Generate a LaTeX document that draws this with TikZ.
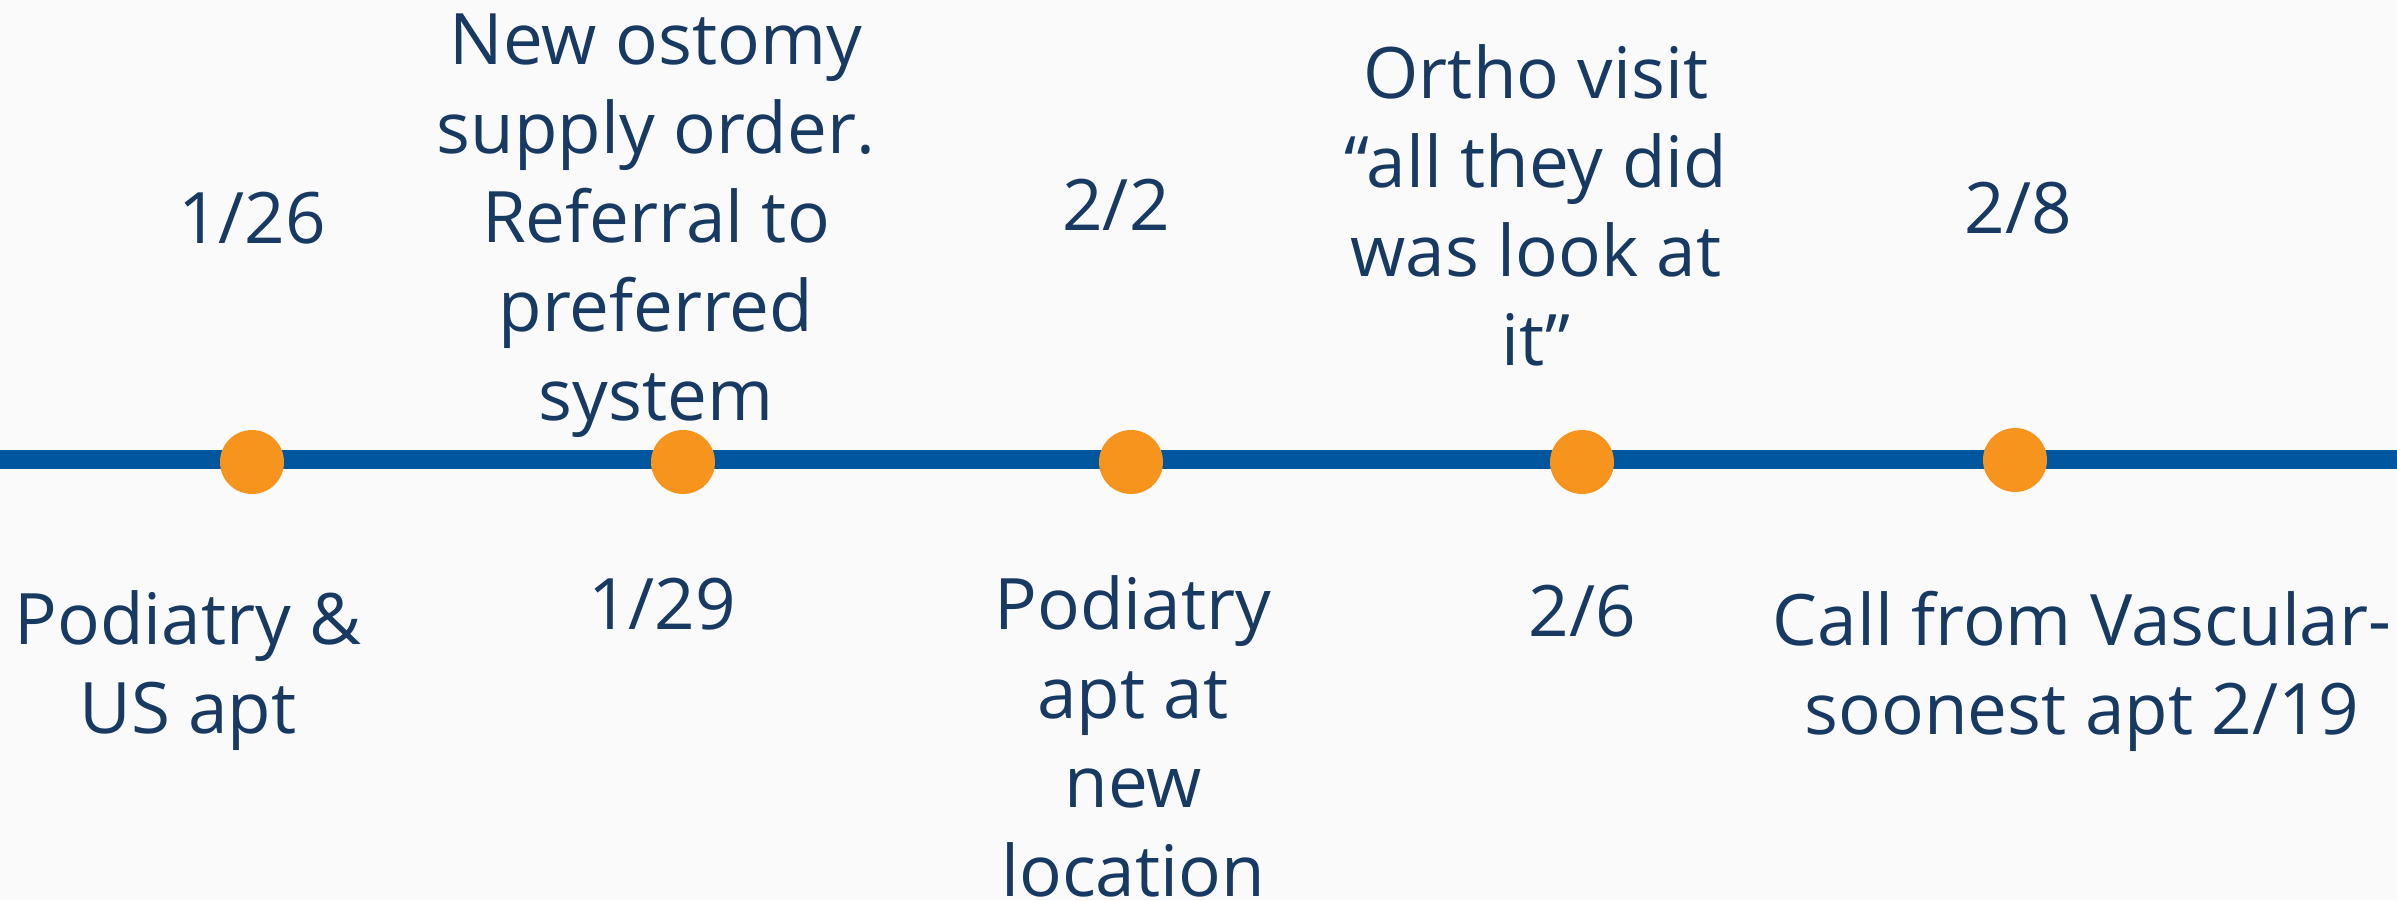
\documentclass[tikz,border=0pt]{standalone}
\usepackage{fontspec}
\setmainfont{Open Sans}
\definecolor{bg}{HTML}{FAFAFA}
\definecolor{lineblue}{HTML}{0057A0}
\definecolor{dotorange}{HTML}{F7941E}
\definecolor{txt}{HTML}{183A62}
\begin{document}
\begin{tikzpicture}[x=1pt,y=-1pt,
  dot/.style={circle,fill=dotorange,draw=none,minimum size=64pt,inner sep=0pt},
  tl/.style={draw=lineblue,line width=19pt},
  lbl/.style={text=txt,align=center,inner sep=0pt,font=\fontsize{71}{89}\selectfont}]
\fill[bg] (0,0) rectangle (2397,900);
\useasboundingbox (0,0) rectangle (2397,900);
\coordinate (L) at (0,459);
\coordinate (R) at (2397,459);
\draw[tl] (L) -- (R);
\node[dot] (d1) at (252,462) {};
\node[dot] (d2) at (683,462) {};
\node[dot] (d3) at (1131,462) {};
\node[dot] (d4) at (1582,462) {};
\node[dot] (d5) at (2015,460) {};
\node[lbl] (t1) at (252,218) {1/26};
\node[lbl] (t2) at (656,226) {New ostomy\\supply order.\\Referral to\\preferred\\system};
\node[lbl] (t3) at (1116,205) {2/2};
\node[lbl] (t4) at (1536,205) {Ortho visit\\“all they did\\was look at\\it”};
\node[lbl] (t5) at (2018,208) {2/8};
\node[lbl] (b1) at (188,671) {Podiatry \&\\US apt};
\node[lbl] (b2) at (662,604) {1/29};
\node[lbl] (b3) at (1133,736) {Podiatry\\apt at\\new\\location};
\node[lbl] (b4) at (1582,611) {2/6};
\node[lbl] (b5) at (2082,671) {Call from Vascular-\\soonest apt 2/19};
\end{tikzpicture}
\end{document}
